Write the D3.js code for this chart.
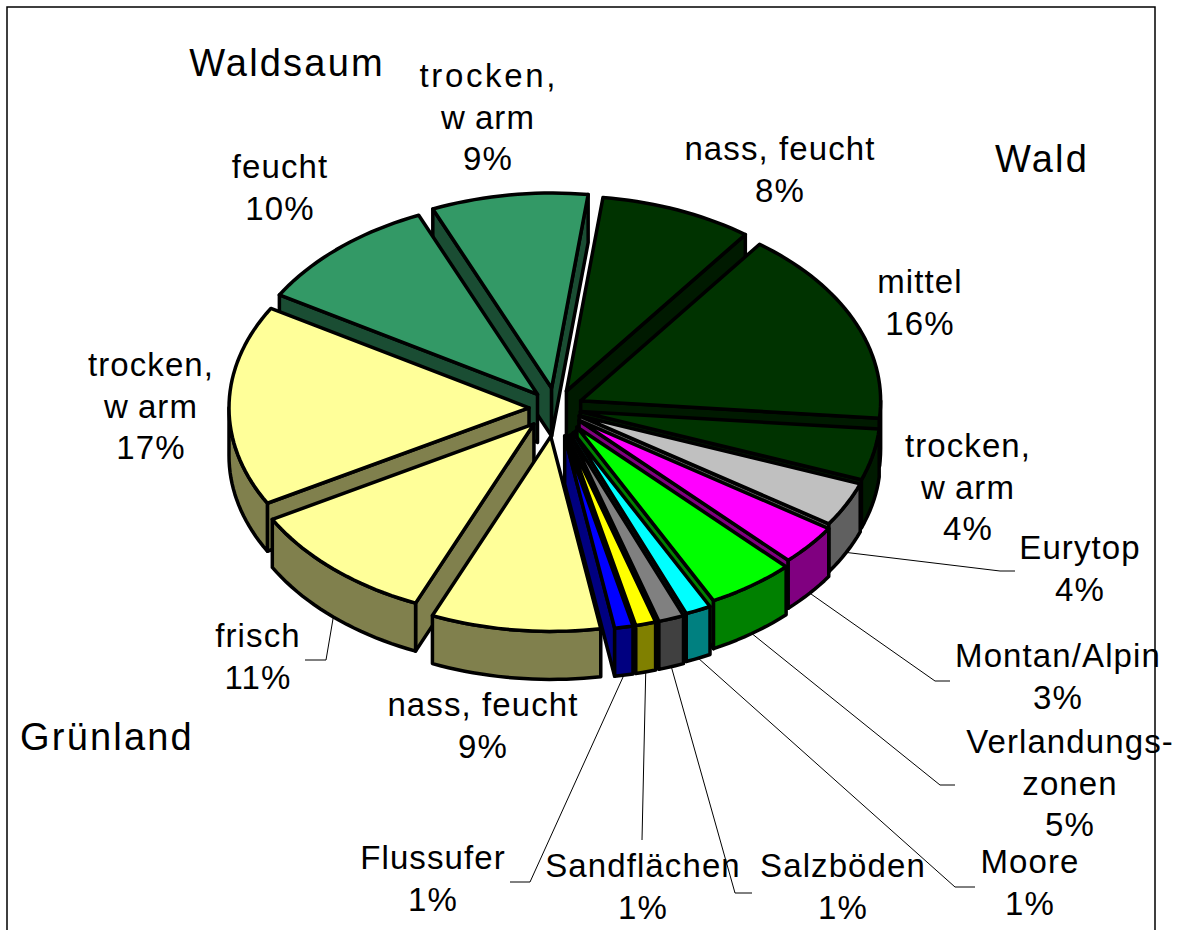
<!DOCTYPE html>
<html>
<head>
<meta charset="utf-8">
<script src="https://cdn.jsdelivr.net/npm/d3@7"></script>
<style>
  html, body { margin: 0; background: #fff; }
  text { font-family: "Liberation Sans", Arial, sans-serif; fill: #000; }
</style>
</head>
<body>
<div id="chart"></div>
<script>
// Values, clockwise from the top of the pie
const categories = ['nass, feucht', 'mittel', 'trocken,\nwarm', 'Eurytop', 'Montan/Alpin', 'Verlandungs-\nzonen',
  'Moore', 'Salzböden', 'Sandflächen', 'Flussufer', 'nass, feucht', 'frisch', 'trocken,\nwarm', 'feucht', 'trocken,\nwarm'];
const values = [8.3, 16.4, 4.3, 3.7, 3.4, 4.8, 1.4, 1.4, 1.1, 1.0, 9.2, 10.5, 16.8, 10.1, 8.5];
const percentLabels = [8, 16, 4, 4, 3, 5, 1, 1, 1, 1, 9, 11, 17, 10, 9];
const groupNames = ['Waldsaum', 'Wald', 'Grünland'];

// Slice styling
const topColors = ['#003300', '#003300', '#003300', '#c0c0c0', '#ff00ff', '#00ff00', '#00ffff', '#808080',
  '#ffff00', '#0000ff', '#ffff99', '#ffff99', '#ffff99', '#339966', '#339966'];
const sideColors = ['#001a00', '#001a00', '#001a00', '#606060', '#800080', '#008000', '#008080', '#404040',
  '#808000', '#000080', '#80804d', '#80804d', '#80804d', '#1a4d33', '#1a4d33'];
const explode = [28, 27, 25, 26, 30, 36, 42, 44, 44, 44, 44, 33, 27, 28, 31];

// Label placement: centre x, first baseline
const labelPos = [[780, 160], [920, 293], [968, 457], [1080, 559], [1058, 667], [1070, 753], [1030, 873], [843, 877],
  [643, 877], [433, 869], [483, 716], [258, 647], [151, 376], [280, 178], [488, 87]];
const groupPos = [[287, 76], [1042, 172], [107, 750]];
// Leader lines: slice index, elbow, end
const leaders = [
  { i: 3, elbow: [1000, 571], end: [1015, 571] },
  { i: 4, elbow: [935, 681], end: [950, 681] },
  { i: 5, elbow: [940, 785], end: [955, 785] },
  { i: 6, elbow: [955, 887], end: [975, 887] },
  { i: 7, elbow: [735, 893], end: [752, 893] },
  { i: 8, elbow: [642, 840], end: [642, 840] },
  { i: 9, elbow: [530, 882], end: [510, 882] },
  { i: 11, elbow: [326, 660], end: [305, 660] }
];

const width = 1178, height = 930;
const cx = 556, cy = 408, rx = 300, ry = 195, depth = 48;
const startDeg = 7;

const svg = d3.select('#chart').append('svg')
  .attr('width', width).attr('height', height)
  .style('display', 'block');

// Frame, open at the bottom
svg.append('path')
  .attr('d', d3.line()([[7, height], [7, 7], [1155, 7], [1155, height]]))
  .attr('fill', 'none').attr('stroke', '#000').attr('stroke-width', 1.5);

const pie = d3.pie().sort(null)
  .startAngle(startDeg * Math.PI / 180)
  .endAngle((startDeg + 360) * Math.PI / 180);

const slices = pie(values).map((d, i) => {
  const mid = (d.startAngle + d.endAngle) / 2;
  return {
    i, a0: d.startAngle, a1: d.endAngle, mid,
    ax: cx + explode[i] * Math.sin(mid),
    ay: cy - explode[i] * Math.cos(mid) * ry / rx
  };
});

const rim = (s, a, dy = 0) => [s.ax + rx * Math.sin(a), s.ay - ry * Math.cos(a) + dy];

function arcPoints(s, a0, a1, dy = 0) {
  const n = Math.max(2, Math.ceil((a1 - a0) / 0.03));
  return d3.range(n + 1).map(k => rim(s, a0 + (a1 - a0) * k / n, dy));
}

// Part of the outer wall that faces the viewer: angles between 90 and 270 degrees, also shifted by a turn
function wallRanges(s) {
  const out = [];
  [Math.PI / 2, Math.PI / 2 + 2 * Math.PI].forEach(lo => {
    const a = Math.max(s.a0, lo), b = Math.min(s.a1, lo + Math.PI);
    if (b > a) out.push([a, b]);
  });
  return out;
}

const closed = pts => d3.line()(pts) + 'Z';

// Paint back to front
const ordered = slices.slice().sort((p, q) => Math.cos(q.mid) - Math.cos(p.mid));
const pieG = svg.append('g')
  .attr('stroke', '#000').attr('stroke-width', 3.5).attr('stroke-linejoin', 'round');

ordered.forEach(s => {
  const g = pieG.append('g');
  const apex = [s.ax, s.ay], apexLow = [s.ax, s.ay + depth];
  const cutFace = a => closed([apex, rim(s, a), rim(s, a, depth), apexLow]);
  if (Math.sin(s.a0) < 0) g.append('path').attr('d', cutFace(s.a0)).attr('fill', sideColors[s.i]);
  if (Math.sin(s.a1) > 0) g.append('path').attr('d', cutFace(s.a1)).attr('fill', sideColors[s.i]);
  wallRanges(s).forEach(([a, b]) => {
    g.append('path')
      .attr('d', closed(arcPoints(s, a, b).concat(arcPoints(s, a, b, depth).reverse())))
      .attr('fill', sideColors[s.i]);
  });
  g.append('path')
    .attr('d', closed([apex].concat(arcPoints(s, s.a0, s.a1))))
    .attr('fill', topColors[s.i]);
});

// Leader lines start on the lower rim of their slice
svg.append('g').selectAll('path').data(leaders).join('path')
  .attr('d', d => d3.line()([rim(slices[d.i], slices[d.i].mid, depth), d.elbow, d.end]))
  .attr('fill', 'none').attr('stroke', '#000').attr('stroke-width', 1);

const labelSize = 33, lineGap = 41.5;

const labels = svg.append('g').selectAll('text').data(slices).join('text')
  .attr('text-anchor', 'middle')
  .attr('font-size', labelSize)
  .attr('letter-spacing', 1.1);

labels.each(function(s) {
  const [x, y] = labelPos[s.i];
  const lines = categories[s.i].split('\n').concat(percentLabels[s.i] + '%');
  lines.forEach((line, k) => {
    const span = d3.select(this).append('tspan')
      .attr('x', x)
      .attr('y', y + k * lineGap)
      .text(line);
    // the picture leaves a gap after the w, and the top label is spread wider
    if (line === 'warm') span.attr('dx', '0 9');
    if (line === 'trocken,' && s.i === 14) span.attr('textLength', 137);
  });
});

svg.append('g').selectAll('text').data(groupNames).join('text')
  .attr('x', (d, i) => groupPos[i][0])
  .attr('y', (d, i) => groupPos[i][1])
  .attr('text-anchor', 'middle')
  .attr('font-size', 38)
  .attr('letter-spacing', 2.2)
  .text(d => d);
</script>
</body>
</html>
